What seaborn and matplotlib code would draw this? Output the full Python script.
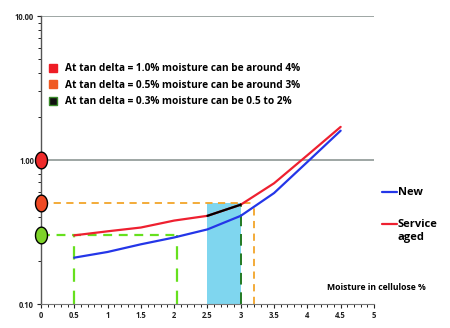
import numpy as np
import pandas as pd
import matplotlib
matplotlib.use("Agg")
import matplotlib.pyplot as plt
from matplotlib.lines import Line2D
from matplotlib.path import Path
import seaborn as sns

# Moisture content (%) and dielectric loss (tan delta, %) for two paper conditions
moisture = [0.5, 1.0, 1.5, 2.0, 2.5, 3.0, 3.5, 4.0, 4.5]
tan_new = [0.21, 0.23, 0.26, 0.29, 0.33, 0.41, 0.59, 0.97, 1.60]
tan_aged = [0.30, 0.32, 0.34, 0.38, 0.41, 0.49, 0.69, 1.08, 1.70]

# Reference tan delta levels and the moisture read from each
ref_levels = [1.0, 0.5, 0.3]
ref_colors = ["#ee2a2a", "#f04a24", "#7ed32a"]
orange_moisture = 3.2
green_moisture = [0.5, 2.05]
band = [2.5, 3.0]

notes = [
    "At tan delta = 1.0% moisture can be around 4%",
    "At tan delta = 0.5% moisture can be around 3%",
    "At tan delta = 0.3% moisture can be 0.5 to 2%",
]
series_names = ["New", "Service\naged"]

x_ticks = [0, 0.5, 1, 1.5, 2, 2.5, 3, 3.5, 4, 4.5, 5]
x_tick_labels = ["0", "0.5", "1", "1.5", "2", "2.5", "3", "3.5", "4", "4.5", "5"]
y_ticks = [0.1, 1.0, 10.0]
y_tick_labels = ["0.10", "1.00", "10.00"]

sns.set_theme(style="white")
plt.rcParams["font.family"] = ["Open Sans", "DejaVu Sans"]
plt.rcParams["text.color"] = "black"
plt.rcParams["xtick.color"] = "#222222"
plt.rcParams["ytick.color"] = "#222222"

fig = plt.figure(figsize=(4.5, 3.28), dpi=100)
ax = fig.add_axes([0.091, 0.073, 0.74, 0.878])
ax.set_yscale("log")
ax.set_xlim(0, 5)
ax.set_ylim(0.1, 10)

blue = "#2436e8"
red = "#ee2030"
orange = "#f2a52a"
lime = "#66e01e"
dgreen = "#237a23"

# horizontal reference grid at 1 and 10
for yv in [1.0, 10.0]:
    ax.axhline(yv, color="#9ea6a4", lw=1.4, zorder=1)

# shaded moisture band under the 0.5 level
ax.fill_between(band, 0.1, 0.5, color="#7fd6ef", lw=0, zorder=1)

# dashed read-off lines
ax.plot([0, orange_moisture], [0.5, 0.5], ls=(0, (4, 3)), color=orange, lw=1.3, zorder=2)
ax.plot([orange_moisture, orange_moisture], [0.1, 0.5], ls=(0, (4, 3)), color=orange, lw=1.3, zorder=2)
ax.plot([0, green_moisture[1]], [0.3, 0.3], ls=(0, (4, 3)), color=lime, lw=1.6, zorder=2)
for xv in green_moisture:
    ax.plot([xv, xv], [0.1, 0.3], ls=(0, (6, 4)), color=lime, lw=1.6, zorder=2)
ax.plot([band[1], band[1]], [0.1, 0.5], ls=(0, (6, 4)), color=dgreen, lw=1.4, zorder=2)

df = pd.DataFrame({
    "moisture": moisture * 2,
    "tan": tan_new + tan_aged,
    "paper": [series_names[0]] * len(moisture) + [series_names[1]] * len(moisture),
})
sns.lineplot(data=df, x="moisture", y="tan", hue="paper",
             palette={series_names[0]: blue, series_names[1]: red},
             lw=1.6, ax=ax, legend=False, zorder=3)
# aged curve segment inside the band
ax.plot(moisture[4:6], tan_aged[4:6], color="black", lw=1.6, zorder=4)

# level markers on the y axis
theta = np.linspace(0, 2 * np.pi, 60)
ellipse = Path(np.column_stack([0.72 * np.cos(theta), np.sin(theta)]), closed=True)
for yv, c in zip(ref_levels, ref_colors):
    ax.plot([0], [yv], marker=ellipse, ms=12, mfc=c, mec="black", mew=1.0,
            clip_on=False, zorder=6, ls="none")

# axis styling
for s in ["top", "right"]:
    ax.spines[s].set_visible(False)
ax.spines["left"].set_color("#555555")
ax.spines["left"].set_linewidth(1.0)
ax.spines["bottom"].set_color("#777777")
ax.spines["bottom"].set_linewidth(0.8)
ax.set_xticks(x_ticks)
ax.set_xticklabels(x_tick_labels)
ax.set_xticks(np.arange(0, 5.01, 0.1), minor=True)
ax.set_yticks(y_ticks)
ax.set_yticklabels(y_tick_labels)
ax.tick_params(axis="both", which="major", labelsize=5.5, length=3, width=0.8,
               pad=2, left=True, bottom=True, direction="out")
ax.tick_params(axis="both", which="minor", length=2, width=0.7,
               left=True, bottom=True)
for lab in ax.get_xticklabels() + ax.get_yticklabels():
    lab.set_fontweight("bold")
ax.set_xlabel("")
ax.set_ylabel("")

# notes legend
note_handles = [
    Line2D([], [], ls="none", marker="s", ms=6, mfc="#ee1c25", mec="#ee1c25"),
    Line2D([], [], ls="none", marker="s", ms=6, mfc="#f05a22", mec="#f05a22"),
    Line2D([], [], ls="none", marker="s", ms=6, mfc="#111111", mec="#3a8a2a"),
]
ax.legend(note_handles, notes, loc="upper left",
          bbox_to_anchor=(44 / 450, 1 - 58 / 328), bbox_transform=fig.transFigure,
          frameon=False, handlelength=0.8, handletextpad=0.8, labelspacing=0.55,
          prop={"size": 7.3, "weight": "bold"}, borderpad=0)

# series key to the right of the plot
W, H = 450, 328
key_rows = [(192, blue), (224, red)]
for (ypx, col), name in zip(key_rows, series_names):
    yf = 1 - ypx / H
    fig.add_artist(Line2D([382 / W, 397 / W], [yf, yf], color=col, lw=1.6))
    fig.text(398 / W, 1 - (ypx - 5) / H, name, fontsize=8, fontweight="bold",
             va="top", ha="left", linespacing=1.3)

fig.text(327 / W, 1 - 287 / H, "Moisture in cellulose %", fontsize=6.2,
         fontweight="bold", va="center", ha="left")

fig.savefig("out.png", dpi=100, facecolor="white")
